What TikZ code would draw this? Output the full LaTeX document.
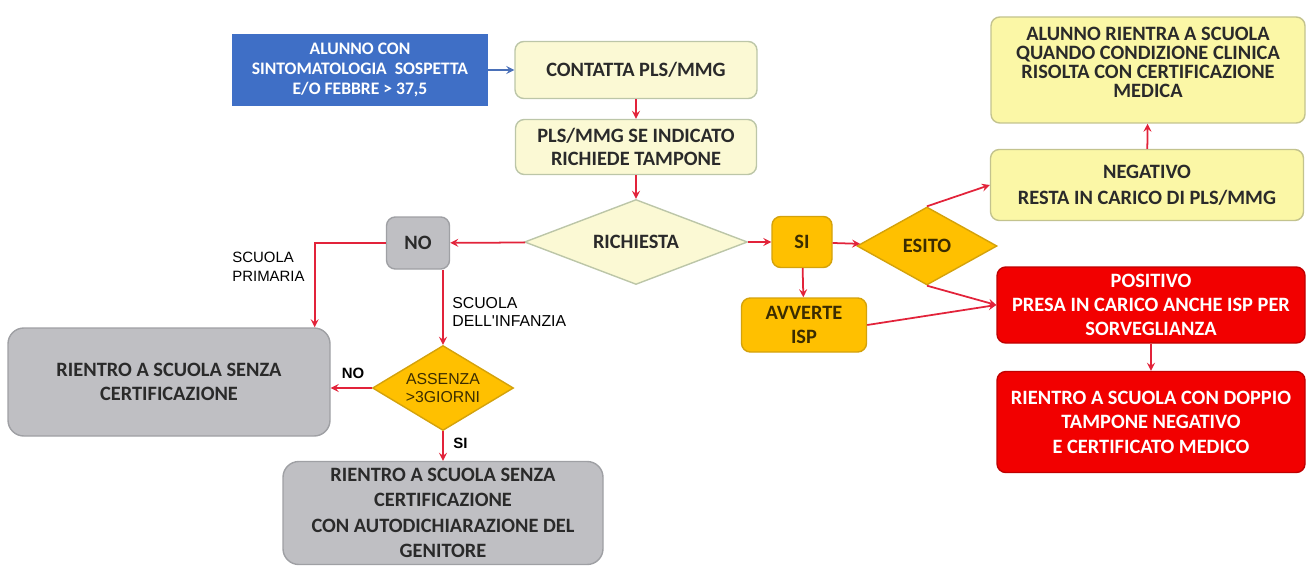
\documentclass[tikz,border=0pt]{standalone}
\usepackage{fontspec}
\setmainfont{Carlito}
\newfontfamily\labelfont{Liberation Sans}
\usepackage{xcolor}
\usetikzlibrary{shapes.geometric}

\definecolor{boxblue}{HTML}{3F6FC6}
\definecolor{paleyellow}{HTML}{FBF9D4}
\definecolor{paleedge}{HTML}{BCC6A8}
\definecolor{lemon}{HTML}{FBF7A6}
\definecolor{lemonedge}{HTML}{C3C38E}
\definecolor{greybox}{HTML}{BFBFC3}
\definecolor{greyedge}{HTML}{9FA0A4}
\definecolor{amber}{HTML}{FFC000}
\definecolor{amberedge}{HTML}{D4A20B}
\definecolor{redbox}{HTML}{F20000}
\definecolor{rededge}{HTML}{C00000}
\definecolor{arrowred}{HTML}{E2233A}
\definecolor{arrowblue}{HTML}{4A70B8}
\definecolor{darktext}{HTML}{2A2A2A}
\definecolor{ambertext}{HTML}{3B2C00}

\begin{document}
\begin{tikzpicture}[
    flowbox/.style={draw, rectangle, rounded corners=5pt, align=center, inner sep=2pt, line width=0.8pt, font=\bfseries\fontsize{11.6}{13.5}\selectfont},
    choice/.style={draw, diamond, align=center, inner sep=0pt, line width=0.8pt, font=\bfseries\fontsize{11.6}{13.5}\selectfont},
    branchlabel/.style={align=left, inner sep=0pt, text=black, font=\labelfont\fontsize{8.5}{10.5}\selectfont},
    flowarrow/.style={->, >=stealth, line width=1pt, arrowred}
]
    \useasboundingbox (0,0) rectangle (26.16,-11.32);

    % Start and request
    \node[flowbox, sharp corners, fill=boxblue, draw=boxblue, text=white, minimum width=5.08cm, minimum height=1.4cm, font=\bfseries\fontsize{10}{11.5}\selectfont] (alunno) at (7.2,-1.4) {ALUNNO CON\\SINTOMATOLOGIA\ \ SOSPETTA\\E/O FEBBRE > 37,5};
    \node[flowbox, fill=paleyellow, draw=paleedge, text=darktext, minimum width=4.84cm, minimum height=1.14cm] (contatta) at (12.72,-1.4) {CONTATTA PLS/MMG};
    \node[flowbox, fill=paleyellow, draw=paleedge, text=darktext, minimum width=4.82cm, minimum height=1.1cm] (indicato) at (12.72,-2.94) {PLS/MMG SE INDICATO\\RICHIEDE TAMPONE};
    \node[choice, fill=paleyellow, draw=paleedge, text=darktext, aspect=2.6, minimum width=4.46cm, minimum height=1.7cm] (richiesta) at (12.72,-4.84) {RICHIESTA};

    % Branch NO
    \node[flowbox, fill=greybox, draw=greyedge, text=darktext, minimum width=1.26cm, minimum height=1.04cm] (no) at (8.36,-4.86) {NO};
    \node[flowbox, rounded corners=9pt, fill=greybox, draw=greyedge, text=darktext, minimum width=6.44cm, minimum height=2.16cm] (senzaA) at (3.38,-7.64) {RIENTRO A SCUOLA SENZA\\CERTIFICAZIONE};
    \node[choice, fill=amber, draw=amberedge, text=ambertext, aspect=1.66, minimum width=2.82cm, minimum height=1.7cm, font=\labelfont\fontsize{9}{10.5}\selectfont] (assenza) at (8.86,-7.76) {ASSENZA\\>3GIORNI};
    \node[flowbox, rounded corners=9pt, fill=greybox, draw=greyedge, text=darktext, minimum width=6.4cm, minimum height=2.06cm, font=\bfseries\fontsize{11.6}{14.5}\selectfont] (senzaB) at (8.86,-10.26) {RIENTRO A SCUOLA SENZA\\CERTIFICAZIONE\\CON AUTODICHIARAZIONE DEL\\GENITORE};

    % Branch SI
    \node[flowbox, fill=amber, draw=amberedge, text=ambertext, minimum width=1.2cm, minimum height=1.02cm] (si) at (16.04,-4.84) {SI};
    \node[flowbox, fill=amber, draw=amberedge, text=ambertext, minimum width=2.5cm, minimum height=1.08cm] (avverte) at (16.08,-6.5) {AVVERTE\\ISP};
    \node[choice, fill=amber, draw=amberedge, text=ambertext, aspect=1.8, minimum width=2.8cm, minimum height=1.56cm] (esito) at (18.54,-4.92) {ESITO};

    % Outcomes
    \node[flowbox, fill=lemon, draw=lemonedge, text=darktext, minimum width=6.26cm, minimum height=1.42cm, font=\bfseries\fontsize{11.6}{15}\selectfont] (negativo) at (22.94,-3.7) {NEGATIVO\\RESTA IN CARICO DI PLS/MMG};
    \node[flowbox, fill=lemon, draw=lemonedge, text=darktext, minimum width=6.28cm, minimum height=2.12cm, text depth=0.3cm, font=\bfseries\fontsize{11.6}{10.8}\selectfont] (rientra) at (22.96,-1.4) {ALUNNO RIENTRA A SCUOLA\\QUANDO CONDIZIONE CLINICA\\RISOLTA CON CERTIFICAZIONE\\MEDICA};
    \node[flowbox, fill=redbox, draw=rededge, text=white, minimum width=6.16cm, minimum height=1.52cm] (positivo) at (23.02,-6.1) {POSITIVO\\PRESA IN CARICO ANCHE ISP PER\\SORVEGLIANZA};
    \node[flowbox, fill=redbox, draw=rededge, text=white, minimum width=6.16cm, minimum height=2.02cm, font=\bfseries\fontsize{11.6}{14}\selectfont] (doppio) at (23.02,-8.44) {RIENTRO A SCUOLA CON DOPPIO\\TAMPONE NEGATIVO\\E CERTIFICATO MEDICO};

    % Labels
    \node[branchlabel, anchor=west] (primaria) at (4.64,-5.34) {SCUOLA\\PRIMARIA};
    \node[branchlabel, anchor=west, font=\labelfont\fontsize{9}{10.5}\selectfont] (infanzia) at (9.04,-6.24) {SCUOLA\\DELL'INFANZIA};
    \node[branchlabel, font=\labelfont\bfseries\fontsize{8.5}{10.5}\selectfont] (nolabel) at (7.06,-7.46) {NO};
    \node[branchlabel, anchor=west, font=\labelfont\bfseries\fontsize{8.5}{10.5}\selectfont] (silabel) at (9.06,-8.86) {SI};

    % Arrows
    \draw[flowarrow, arrowblue] (alunno) -- (contatta);
    \draw[flowarrow] (contatta) -- (indicato);
    \draw[flowarrow] (indicato) -- (richiesta);
    \draw[flowarrow] (richiesta) -- (no);
    \draw[flowarrow] (no.west) -| ([xshift=-0.32cm]senzaA.north east);
    \draw[flowarrow] (no.south -| assenza.north) -- (assenza.north);
    \draw[flowarrow] (assenza.west) -- (assenza.west -| senzaA.east);
    \draw[flowarrow] (assenza) -- (senzaB);
    \draw[flowarrow] (richiesta) -- (si);
    \draw[flowarrow] (si) -- (esito);
    \draw[flowarrow] (si) -- (avverte);
    \draw[flowarrow] (esito.north) -- (negativo.west);
    \draw[flowarrow] (esito.south) -- (positivo.west);
    \draw[flowarrow] (avverte.east) -- (positivo.west);
    \draw[flowarrow] (negativo) -- (rientra);
    \draw[flowarrow] (positivo) -- (doppio);
\end{tikzpicture}
\end{document}
